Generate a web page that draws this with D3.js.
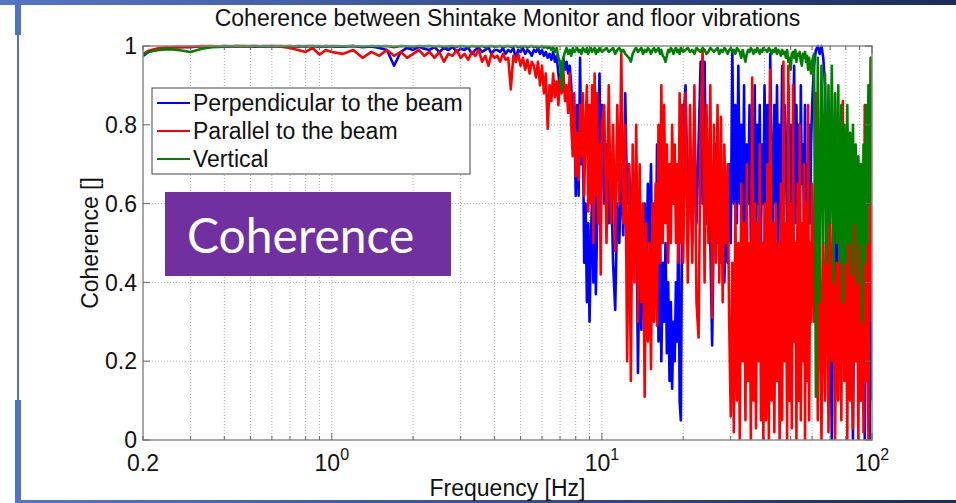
<!DOCTYPE html>
<html><head><meta charset="utf-8">
<script src="https://cdn.jsdelivr.net/npm/d3@7/dist/d3.min.js"></script>
<style>
html,body{margin:0;padding:0;background:#fff;}
svg{display:block;}
</style></head><body>
<svg id="chart" width="956" height="503"></svg>
<script>
// ---------------- DATA ----------------
const freqHz = [
 0.2,0.21,0.22,0.23,0.25,0.27,0.3,0.33,0.36,0.4,0.44,0.48,0.52,0.56,0.6,0.65,0.7,0.75,0.8,0.85,0.9,0.95,1,
 1.1,1.2,1.3,1.4,1.5,1.6,1.7,1.8,1.9,2,2.1,2.2,2.3,2.4,2.5,2.6,2.7,2.8,2.9,3,3.1,3.2,3.3,3.4,3.5,3.6,3.7,3.8,3.9,4,
 4.1,4.2,4.3,4.4,4.5,4.6,4.7,4.8,4.9,5,5.1,5.2,5.3,5.4,5.5,5.6,5.7,5.8,5.9,6,6.1,6.2,6.3,6.4,6.5,6.6,6.7,6.8,6.9,7,7.1,7.2,7.3,7.4,7.5,7.6,7.7,7.8,7.9,8,
 8.1,8.2,8.3,8.4,8.5,8.6,8.7,8.8,8.9,9,9.1,9.2,9.3,9.4,9.5,9.6,9.7,9.8,9.9,10,
 10.2,10.4,10.6,10.8,11,11.2,11.4,11.6,11.8,12,12.2,12.4,12.6,12.8,13,13.2,13.4,13.6,13.8,14,14.2,14.4,14.6,14.8,15,15.2,15.4,15.6,15.8,16,16.2,16.4,16.6,16.8,17,17.2,17.4,17.6,17.8,18,18.2,18.4,18.6,18.8,19,19.2,19.4,19.6,19.8,20,
 20.4,20.8,21.2,21.6,22,22.4,22.8,23.2,23.6,24,24.4,24.8,25.2,25.6,26,26.4,26.8,27.2,27.6,28,28.4,28.8,29.2,29.6,30,30.4,30.8,31.2,31.6,32,32.4,32.8,33.2,33.6,34,34.4,34.8,35.2,35.6,36,36.4,36.8,37.2,37.6,38,38.4,38.8,39.2,39.6,40,
 40.5,41,41.5,42,42.5,43,43.5,44,44.5,45,45.5,46,46.5,47,47.5,48,48.5,49,49.5,50,50.5,51,51.5,52,52.5,53,53.5,54,54.5,55,55.5,56,56.5,57,57.5,58,58.5,59,59.5,60,
 61,62,63,64,65,66,67,68,69,70,71,72,73,74,75,76,77,78,79,80,81,82,83,84,85,86,87,88,89,90,91,92,93,94,95,96,97,98,99,100
];

// Perpendicular to the beam (blue)
const perpendicular = [
 .975,.985,.99,.993,.996,.998,.997,1,.998,1,.999,1,.998,1,.999,1,.998,1,.999,1,.998,1,.999,
 .998,1,.997,.999,.995,.99,.95,.985,.995,.99,.998,.993,.99,.997,.985,.995,.99,.998,.985,.993,.99,.996,.98,.99,.995,.985,.99,.997,.98,.99,
 .99,.985,.995,.98,.99,.985,.995,.97,.99,.985,.995,.98,.99,.985,.975,.99,.985,.995,.98,.99,.975,.985,.97,.98,.965,.985,.96,.975,.93,.89,.95,.97,.94,.96,.93,.95,.9,.8,.85,.62,
 .85,.62,.97,.7,.82,.45,.6,.35,.55,.3,.5,.62,.4,.7,.37,.55,.8,.93,.6,.85,
 .6,.75,.55,.7,.45,.33,.6,.5,.7,.52,.88,.6,.7,.55,.65,.45,.6,.17,.5,.28,.55,.6,.45,.65,.5,.7,.33,.6,.35,.75,.25,.55,.2,.45,.3,.5,.22,.4,.15,.35,.13,.3,.2,.4,.25,.6,.1,.05,.55,.8,
 .9,.6,.7,.5,.8,.55,.75,.96,.6,.96,.55,.7,.5,.24,.6,.75,.5,.65,.45,.6,.4,.55,.45,.7,.5,.99,.6,.85,.55,.95,.6,.8,.5,.9,.35,.75,.6,.85,.5,.7,.55,.9,.45,.8,.6,.85,.5,.75,.6,.9,
 .6,.85,.5,.98,.7,.55,.85,.6,.9,.5,.8,.65,.95,.6,.85,.7,.55,.9,.6,.8,.45,.75,.95,.55,.85,.6,.8,.5,.9,.65,.75,.55,.85,.5,.7,.6,.8,.55,.75,.85,
 .95,.99,1,.98,1,.97,.9,.6,.8,.4,0,.5,.7,.3,.6,.2,.55,.4,.65,.3,.5,.2,.6,.35,0,.45,.25,.5,.3,.1,.45,.3,.55,0,.4,.2,.5,0,.45,.1
];

// Parallel to the beam (red)
const parallel = [
 .98,.988,.992,.995,.997,.996,.998,.999,1,.998,1,.999,1,.999,1,.998,.995,.99,.985,.995,.978,.99,.985,
 .98,.99,.97,.985,.975,.99,.975,.985,.97,.98,.99,.975,.985,.97,.985,.96,.98,.975,.99,.97,.98,.965,.985,.975,.99,.96,.975,.95,.98,.97,
 .975,.96,.98,.965,.97,.89,.975,.96,.98,.95,.97,.94,.965,.93,.96,.95,.92,.96,.9,.95,.88,.93,.79,.9,.86,.93,.87,.91,.85,.92,.88,.94,.86,.9,.83,.93,.8,.72,.88,.67,
 .78,.66,.85,.72,.88,.62,.8,.9,.58,.85,.6,.9,.5,.93,.62,.88,.55,.75,.42,.8,
 .85,.5,.9,.55,.8,.48,.85,.6,.98,.55,.8,.2,.7,.15,.75,.4,.8,.3,.7,.35,.6,.11,.55,.25,.5,.18,.6,.3,.65,.29,.8,.45,.9,.5,.85,.55,.75,.45,.7,.5,.8,.6,.75,.5,.7,.45,.88,.5,.85,.45,
 .88,.4,.85,.45,.9,.35,.26,.8,.99,.4,.85,.5,.9,.31,.8,.45,.85,.4,.82,.35,.75,.5,.7,.3,.06,.45,.02,.6,.1,.5,0,.65,.2,.55,.05,.7,.15,.5,0,.92,.1,.6,.03,.55,.2,.75,.05,.5,0,.6,
 .05,.7,0,.94,.1,.55,.02,.6,.15,.5,0,.65,.05,.96,.2,.55,0,.95,.1,.6,.03,.9,.25,.5,0,.65,.1,.8,.05,.55,.2,.7,0,.6,.15,.85,.05,.5,.3,.65,
 .3,.88,.05,.6,0,.5,.1,.7,.02,.55,.2,.6,0,.45,.1,.65,.05,.86,.15,.5,0,.6,.1,.55,.03,.7,.2,.5,0,.6,.1,.55,.02,.85,.15,.5,0,.6,.97,.3
];

// Vertical (green)
const vertical = [
 .978,.985,.988,.99,.992,.99,.985,.993,.997,.998,1,.999,1,.998,1,.999,1,.998,1,.999,1,.998,1,
 .999,1,.998,1,.999,1,.997,1,.999,.998,1,.999,1,.998,1,.997,.999,1,.998,1,.999,.997,1,.999,.998,1,.997,.999,1,.998,
 .999,1,.997,.999,1,.998,.999,1,.997,.999,.998,1,.996,.999,1,.997,.999,.995,.998,1,.996,.999,.994,.998,.99,.997,.985,.995,.97,.96,.89,.97,.985,.995,.98,.99,.975,.995,.985,.99,
 .995,.985,.99,.98,.995,.99,.985,.995,.98,.99,.995,.985,.99,.995,.98,.99,.985,.995,.99,.985,
 .99,.995,.985,.99,.995,.98,.99,.995,.985,.99,.98,.975,.97,.96,.98,.99,.995,.985,.99,.995,.98,.99,.985,.995,.99,.98,.99,.995,.985,.99,.995,.98,.99,.975,.97,.96,.975,.99,.985,.995,.99,.98,.99,.995,.985,.99,.98,.995,.99,.985,
 .99,.995,.985,.99,.98,.995,.99,.985,.995,.99,.98,.985,.995,.99,.985,.99,.995,.98,.99,.985,.995,.99,.98,.99,.995,.985,.99,.98,.995,.99,.985,.97,.99,.975,.96,.98,.99,.985,.995,.99,.98,.99,.985,.995,.99,.98,.99,.985,.995,.99,
 .99,.985,.995,.99,.98,.99,.985,.995,.98,.99,.985,.975,.99,.98,.985,.97,.99,.96,.97,.94,.98,.985,.97,.99,.96,.98,.975,.985,.96,.95,.98,.97,.985,.96,.975,.94,.97,.95,.93,.96,
 .98,.11,.97,.35,.95,.5,.93,.45,.9,.55,.95,.4,.88,.5,.9,.45,.85,.35,.8,.45,.85,.5,.78,.42,.8,.55,.75,.4,.72,.5,.7,.3,.75,.45,.85,.5,.9,.6,.97,.95
];

const seriesNames = ["Perpendicular to the beam", "Parallel to the beam", "Vertical"];
const seriesColors = ["#0000ff", "#ff0000", "#008000"];
const yTickValues = [0, 0.2, 0.4, 0.6, 0.8, 1];
const yTickLabels = ["0", "0.2", "0.4", "0.6", "0.8", "1"];
const xTickValues = [0.2, 1, 10, 100];
const xTickBase = ["0.2", "10", "10", "10"];
const xTickExp = ["", "0", "1", "2"];
const titleText = "Coherence between Shintake Monitor and floor vibrations";
const xLabel = "Frequency [Hz]";
const yLabel = "Coherence []";
const overlayText = "Coherence";

// ---------------- LAYOUT ----------------
const svg = d3.select("#chart");
const L = 143, R = 872, T = 46, B = 440;
const FONT = "'Liberation Sans', Arial, Helvetica, sans-serif";
const x = d3.scaleLog().domain([0.2, 100]).range([L, R]);
const y = d3.scaleLinear().domain([0, 1]).range([B, T]);

// slide decoration
const defs = svg.append("defs");
const g1 = defs.append("linearGradient").attr("id", "barGrad").attr("x1", "0%").attr("x2", "100%");
g1.append("stop").attr("offset", "0%").attr("stop-color", "#5576c8");
g1.append("stop").attr("offset", "100%").attr("stop-color", "#1c2c5c");
defs.append("clipPath").attr("id", "plotClip").append("rect")
  .attr("x", L).attr("y", T - 2).attr("width", R - L).attr("height", B - T + 2);

svg.append("rect").attr("x", 0).attr("y", 0).attr("width", 956).attr("height", 5).attr("fill", "url(#barGrad)");
svg.append("rect").attr("x", 15).attr("y", 0).attr("width", 6).attr("height", 35).attr("fill", "#4f72c4");
svg.append("rect").attr("x", 17).attr("y", 35).attr("width", 2).attr("height", 365).attr("fill", "#4f72c4");
svg.append("rect").attr("x", 15).attr("y", 400).attr("width", 6).attr("height", 103).attr("fill", "#4f72c4");
svg.append("rect").attr("x", 15).attr("y", 500).attr("width", 941).attr("height", 3).attr("fill", "url(#barGrad)");

// grid
const grid = svg.append("g");
grid.selectAll("line.vg").data(x.ticks().filter(v => v > 0.2 && v < 100)).join("line")
  .attr("x1", d => x(d)).attr("x2", d => x(d)).attr("y1", T).attr("y2", B)
  .attr("stroke", "#b0b0b0").attr("stroke-width", 1).attr("stroke-dasharray", "1,2");
grid.selectAll("line.hg").data(yTickValues.filter(v => v > 0 && v < 1)).join("line")
  .attr("x1", L).attr("x2", R).attr("y1", d => y(d)).attr("y2", d => y(d))
  .attr("stroke", "#b0b0b0").attr("stroke-width", 1).attr("stroke-dasharray", "1,2");

// data lines
const n = Math.min(freqHz.length, perpendicular.length, parallel.length, vertical.length);
const seriesData = [perpendicular, parallel, vertical];
const line = d3.line().x(d => x(d[0])).y(d => y(d[1]));
const plot = svg.append("g").attr("clip-path", "url(#plotClip)");
seriesData.forEach((vals, i) => {
  const pts = d3.range(n).map(k => [freqHz[k], vals[k]]);
  plot.append("path").datum(pts).attr("d", line)
    .attr("fill", "none").attr("stroke", seriesColors[i]).attr("stroke-width", 2.6)
    .attr("stroke-linejoin", "round");
});

// axes box
const axG = svg.append("g");
axG.append("rect").attr("x", L).attr("y", T).attr("width", R - L).attr("height", B - T)
  .attr("fill", "none").attr("stroke", "#8a8a8a").attr("stroke-width", 1.5);
axG.selectAll("line.yt").data(yTickValues).join("line")
  .attr("x1", L).attr("x2", L + 7).attr("y1", d => y(d)).attr("y2", d => y(d)).attr("stroke", "#666");
axG.selectAll("line.yt2").data(yTickValues).join("line")
  .attr("x1", R).attr("x2", R - 7).attr("y1", d => y(d)).attr("y2", d => y(d)).attr("stroke", "#666");
axG.selectAll("line.xt").data(x.ticks()).join("line")
  .attr("x1", d => x(d)).attr("x2", d => x(d)).attr("y1", B).attr("y2", d => B - ([1, 10, 100].includes(d) ? 7 : 4)).attr("stroke", "#666");
axG.selectAll("line.xt2").data(x.ticks()).join("line")
  .attr("x1", d => x(d)).attr("x2", d => x(d)).attr("y1", T).attr("y2", d => T + ([1, 10, 100].includes(d) ? 7 : 4)).attr("stroke", "#666");

// y tick labels
svg.selectAll("text.ytl").data(yTickValues).join("text")
  .attr("x", L - 6).attr("y", d => y(d)).attr("dy", "0.36em")
  .attr("text-anchor", "end").attr("font-family", FONT).attr("font-size", 23).attr("fill", "#111")
  .text((d, i) => yTickLabels[i]);

// x tick labels
xTickValues.forEach((v, i) => {
  const t = svg.append("text").attr("y", 471).attr("font-family", FONT).attr("font-size", 23).attr("fill", "#111");
  t.append("tspan").text(xTickBase[i]);
  if (xTickExp[i]) t.append("tspan").attr("dy", -11).attr("font-size", 16).text(xTickExp[i]);
  const w = t.node().getComputedTextLength();
  t.attr("x", x(v) - w / 2);
});

// labels
svg.append("text").attr("x", (L + R) / 2).attr("y", 26).attr("text-anchor", "middle")
  .attr("font-family", FONT).attr("font-size", 23).attr("fill", "#111").text(titleText);
svg.append("text").attr("x", (L + R) / 2).attr("y", 496).attr("text-anchor", "middle")
  .attr("font-family", FONT).attr("font-size", 23).attr("fill", "#111").text(xLabel);
svg.append("text").attr("transform", `translate(98,${(T + B) / 2}) rotate(-90)`).attr("text-anchor", "middle")
  .attr("font-family", FONT).attr("font-size", 23).attr("fill", "#111").text(yLabel);

// legend
const lg = svg.append("g");
lg.append("rect").attr("x", 152).attr("y", 88).attr("width", 318).attr("height", 86)
  .attr("fill", "#fff").attr("stroke", "#444").attr("stroke-width", 1);
seriesNames.forEach((name, i) => {
  const cy = 103 + i * 28;
  lg.append("line").attr("x1", 157).attr("x2", 190).attr("y1", cy).attr("y2", cy)
    .attr("stroke", seriesColors[i]).attr("stroke-width", 1.8);
  lg.append("text").attr("x", 193).attr("y", cy + 8).attr("font-family", FONT).attr("font-size", 23)
    .attr("fill", "#111").text(name);
});

// overlay label box
svg.append("rect").attr("x", 165).attr("y", 192).attr("width", 286).attr("height", 84).attr("fill", "#7030a0");
svg.append("text").attr("x", 187).attr("y", 253).attr("font-family", "Lato, 'Open Sans', sans-serif")
  .attr("font-size", 48).attr("fill", "#fff").text(overlayText);
</script>
</body></html>
